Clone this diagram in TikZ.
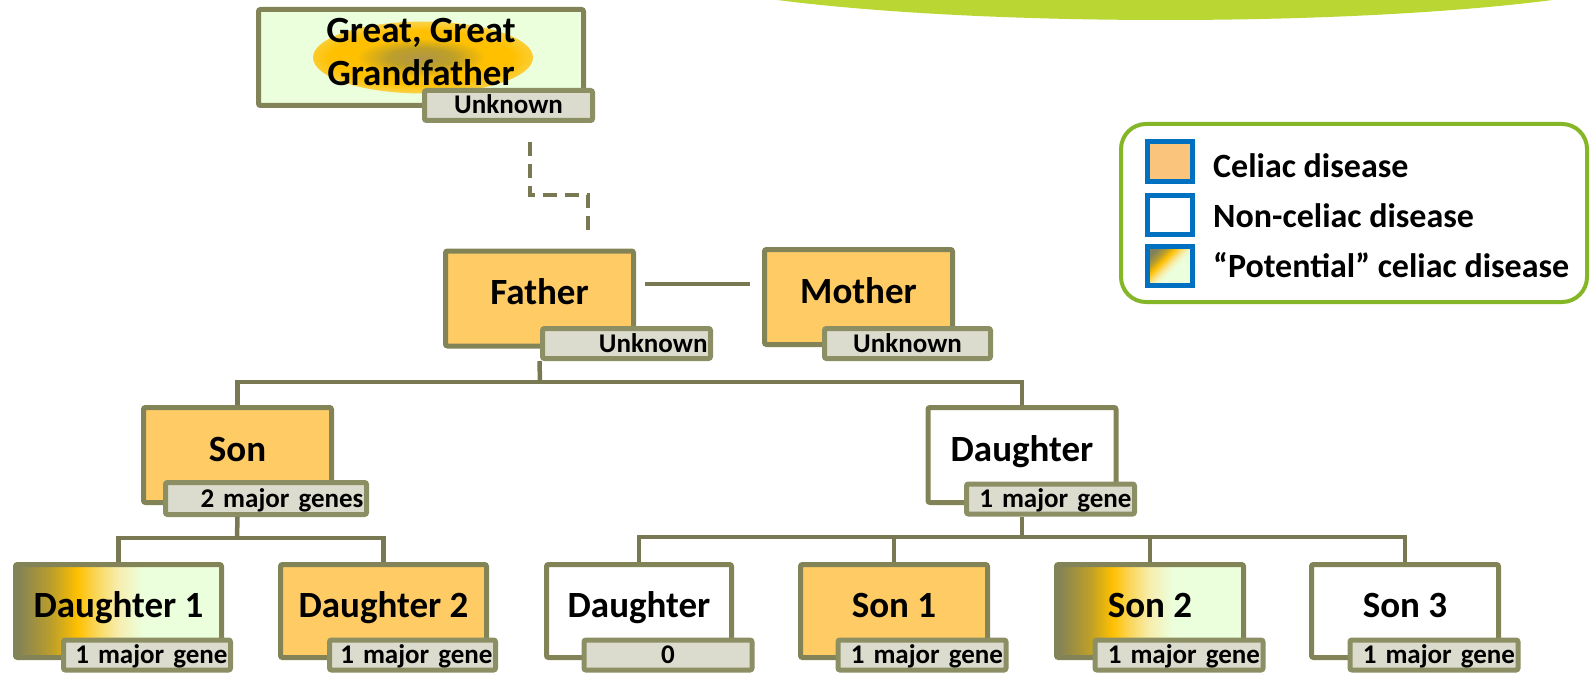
\documentclass[tikz,border=0pt]{standalone}
\usepackage{fontspec}
\setmainfont{Carlito}
\newfontfamily\tagfont{Carlito}[WordSpace=0.6]

\definecolor{boxline}{RGB}{130,132,88}
\definecolor{treeline}{RGB}{120,120,82}
\definecolor{tagline}{RGB}{140,142,100}
\definecolor{tagfill}{RGB}{220,220,206}
\definecolor{celiac}{RGB}{254,203,101}
\definecolor{celiaclight}{RGB}{250,196,125}
\definecolor{palegreen}{RGB}{235,255,220}
\definecolor{paleyellow}{RGB}{246,238,175}
\definecolor{warmyellow}{RGB}{250,212,80}
\definecolor{goldglow}{RGB}{255,192,0}
\definecolor{browngold}{RGB}{190,160,40}
\definecolor{olivegray}{RGB}{128,128,90}
\definecolor{glowcore}{RGB}{178,150,70}
\definecolor{legendgreen}{RGB}{132,182,40}
\definecolor{legendblue}{RGB}{0,112,192}
\definecolor{arcgreen}{RGB}{185,214,50}

\pgfdeclarehorizontalshading{potential}{100bp}{color(0bp)=(olivegray); color(25bp)=(olivegray); color(34bp)=(browngold); color(40bp)=(goldglow); color(44bp)=(warmyellow); color(50bp)=(paleyellow); color(56bp)=(palegreen); color(100bp)=(palegreen)}
\pgfdeclareradialshading{glow}{\pgfpoint{0bp}{0bp}}{color(0bp)=(glowcore); color(5bp)=(browngold); color(10bp)=(goldglow); color(14bp)=(goldglow); color(19bp)=(warmyellow); color(22bp)=(paleyellow); color(25bp)=(palegreen); color(50bp)=(palegreen)}

\tikzset{
    person/.style={rectangle, draw=boxline, line width=5pt, rounded corners=2pt,
        minimum width=188pt, minimum height=95pt, inner sep=0pt,
        font=\fontsize{37}{43}\selectfont\bfseries},
    oneline/.style={text height=23pt, text depth=11pt},
    sick/.style={person, oneline, fill=celiac},
    healthy/.style={person, oneline, fill=white},
    potential/.style={person, oneline, shade, shading=potential},
    gene/.style={rectangle, draw=tagline, line width=5pt, fill=tagfill, rounded corners=2pt,
        minimum height=30pt, inner xsep=3pt, inner ysep=0pt, text width=162pt, align=right,
        text height=19.5pt, text depth=2.5pt,
        font=\tagfont\fontsize{27}{30}\selectfont\bfseries},
    famline/.style={draw=treeline, line width=4.5pt},
    swatch/.style={rectangle, draw=legendblue, line width=5pt, minimum width=45pt, minimum height=39pt},
    legendtext/.style={anchor=base west, inner sep=0pt, font=\fontsize{34}{40}\selectfont\bfseries}
}

\begin{document}
\begin{tikzpicture}[x=1pt,y=-1pt]
    \useasboundingbox (0,0) rectangle (1593,674);

    % header
    \fill[arcgreen] (1165,-40) ellipse (520 and 60);

    % boxes
    \node[person, fill=palegreen, minimum width=325pt, minimum height=96pt, align=center,
        path picture={\shade[shading=glow] ([shift={(2,0)}]path picture bounding box.center)
            ellipse (110 and 36);}]
        (great) at (421,57.5) {Great, Great\\Grandfather\rule[-12pt]{0pt}{0pt}};
    \node[gene, align=center] (greattag) at (508.5,105.5) {Unknown};

    \node[sick] (father) at (539.5,298.5) {Father};
    \node[gene] (fathertag) at (626.5,343.5) {Unknown};
    \node[sick] (mother) at (858.5,297) {Mother};
    \node[gene, align=center, text width=160pt] (mothertag) at (907.5,343.5) {Unknown};

    \node[sick] (son) at (237.5,455) {Son};
    \node[gene, text width=195pt, minimum height=32pt] (sontag) at (266,498.5) {2 major genes};
    \node[healthy] (daughter) at (1022,455) {Daughter};
    \node[gene] (daughtertag) at (1050.5,499) {1 major gene};

    \node[potential, minimum width=206pt, minimum height=93pt] (dau1) at (118.5,611) {Daughter 1};
    \node[gene, text width=161pt] (dau1tag) at (147,655) {1 major gene};
    \node[sick, minimum width=206pt, minimum height=93pt] (dau2) at (383.5,611) {Daughter 2};
    \node[gene, text width=160pt] (dau2tag) at (412.5,655) {1 major gene};
    \node[healthy, minimum width=185pt, minimum height=93pt] (dau) at (639,611) {Daughter};
    \node[gene, align=center] (dautag) at (668,655) {0};
    \node[sick, minimum width=187pt, minimum height=93pt] (son1) at (894,611) {Son 1};
    \node[gene] (son1tag) at (922,655) {1 major gene};
    \node[potential, minimum width=187pt, minimum height=93pt] (son2) at (1150,611) {Son 2};
    \node[gene] (son2tag) at (1179,655) {1 major gene};
    \node[healthy, minimum width=187pt, minimum height=93pt] (son3) at (1405,611) {Son 3};
    \node[gene] (son3tag) at (1434,655) {1 major gene};

    % lines
    \coordinate (dashtop) at (530,142);
    \coordinate (dashend) at (588,237);
    \draw[famline, line width=4pt, dash pattern=on 14pt off 8pt]
        (dashtop) |- ([yshift=42pt]dashend) -- (dashend);

    \coordinate (wed) at (0,284);
    \draw[famline] ([xshift=8.5pt]father.east |- wed) -- ([xshift=-12.5pt]mother.west |- wed);

    \coordinate (kids) at (540,382);
    \draw[famline] (father.center |- fathertag.south) -- (kids);
    \draw[famline] (son.north) |- (kids) -| (daughter.north);

    \coordinate (sonkids) at (237,538);
    \draw[famline] (son.center |- sontag.south) -- (sonkids);
    \draw[famline] (dau1.north) |- (sonkids) -| (dau2.north);

    \coordinate (daukids) at (1022,537);
    \draw[famline] (daughter.center |- daughtertag.south) -- (daukids);
    \draw[famline] (dau.north) |- (daukids) -| (son3.north);
    \draw[famline] (son1.north) -- (son1.north |- daukids);
    \draw[famline] (son2.north) -- (son2.north |- daukids);

    % legend
    \draw[legendgreen, line width=4pt, rounded corners=25pt] (1121,124) rectangle (1587,302);
    \node[swatch, fill=celiaclight] (keyceliac) at (1170,161.5) {};
    \node[swatch, fill=white] (keynon) at (1170,215) {};
    \node[swatch, shade, shading=potential, shading angle=-45] (keypot) at (1170,265.5) {};
    \node[legendtext] (txtceliac) at (1213,177) {Celiac disease};
    \node[legendtext] (txtnon) at (1213,227) {Non-celiac disease};
    \node[legendtext] (txtpot) at (1213,277) {“Potential” celiac disease};

\end{tikzpicture}
\end{document}
